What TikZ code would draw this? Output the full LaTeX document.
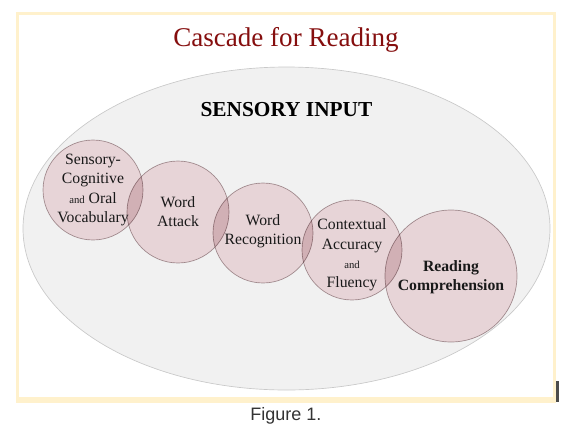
\documentclass[tikz,border=0pt]{standalone}
\usepackage{fontspec}
\setmainfont{Liberation Serif}
\setsansfont{Liberation Sans}
\usetikzlibrary{calc, positioning}

\definecolor{framecol}{HTML}{FFF1CC}
\definecolor{titlered}{HTML}{850E0E}
\definecolor{ellfill}{HTML}{F1F1F1}
\definecolor{ellrim}{HTML}{D6D6D6}
\definecolor{ellline}{HTML}{C9C9C9}
\definecolor{stagefill}{HTML}{E7D4D7}
\definecolor{stageline}{HTML}{A8979A}
\definecolor{captiongray}{HTML}{333333}

\pgfdeclareradialshading{rimshade}{\pgfpoint{-6bp}{8bp}}{color(0bp)=(ellfill); color(38bp)=(ellfill); color(52bp)=(ellrim); color(62bp)=(ellrim)}

\newcommand{\andword}{{\fontsize{8}{10}\selectfont and}}
\newcommand{\stagelist}{%
  sensory/93/190/50/190/{Sensory-\\Cognitive\\\andword{} Oral\\Vocabulary},
  attack/178/212/51/212/{Word\\Attack},
  recog/263/233/50/231/{Word\\Recognition},
  context/352/250/50/255/{Contextual\\Accuracy\\\andword\\Fluency},
  compr/451/276/66/277/{\textbf{Reading}\\\textbf{Comprehension}}}

\begin{document}
\begin{tikzpicture}[x=0.75pt, y=-0.75pt,
  stage/.style={circle, draw=stageline, line width=0.5pt, fill=stagefill, inner sep=0pt},
  stagetext/.style={align=center, inner sep=0pt, text=black!90, font=\fontsize{11.8}{14.4}\selectfont}]
  \useasboundingbox (0,0) rectangle (585,429);

  % Frame
  \draw[framecol, line width=2.25pt] (17.5,13.5) rectangle (554.5,400);
  \fill[framecol] (16,397) rectangle (556,403);
  \draw[gray!60!black, line width=2pt] (557.5,381) -- (557.5,402);

  % Title
  \node[anchor=base, text=titlered, font=\fontsize{20.3}{24}\selectfont] (title) at (286,46) {Cascade for Reading};

  % Sensory input ellipse
  \shadedraw[shading=rimshade, draw=ellline, line width=0.5pt] (286.5,228.5) ellipse [x radius=263.5, y radius=161.5];
  \node[anchor=base, font=\bfseries\fontsize{16}{19}\selectfont] (input) at (286.5,116) {SENSORY INPUT};

  % Overlapping stages
  \begin{scope}[blend group=multiply]
    \foreach \name/\x/\y/\r/\ty/\txt in \stagelist {
      \node[stage, minimum size=\r*1.5pt] (\name) at (\x,\y) {};
    }
  \end{scope}
  \foreach \name/\x/\y/\r/\ty/\txt in \stagelist {
    \node[stagetext] (\name-txt) at (\x,\ty) {\txt};
  }

  % Caption
  \node[anchor=base, text=captiongray, font=\sffamily\fontsize{13.5}{16}\selectfont] (caption) at (286,420) {Figure 1.};
\end{tikzpicture}
\end{document}
